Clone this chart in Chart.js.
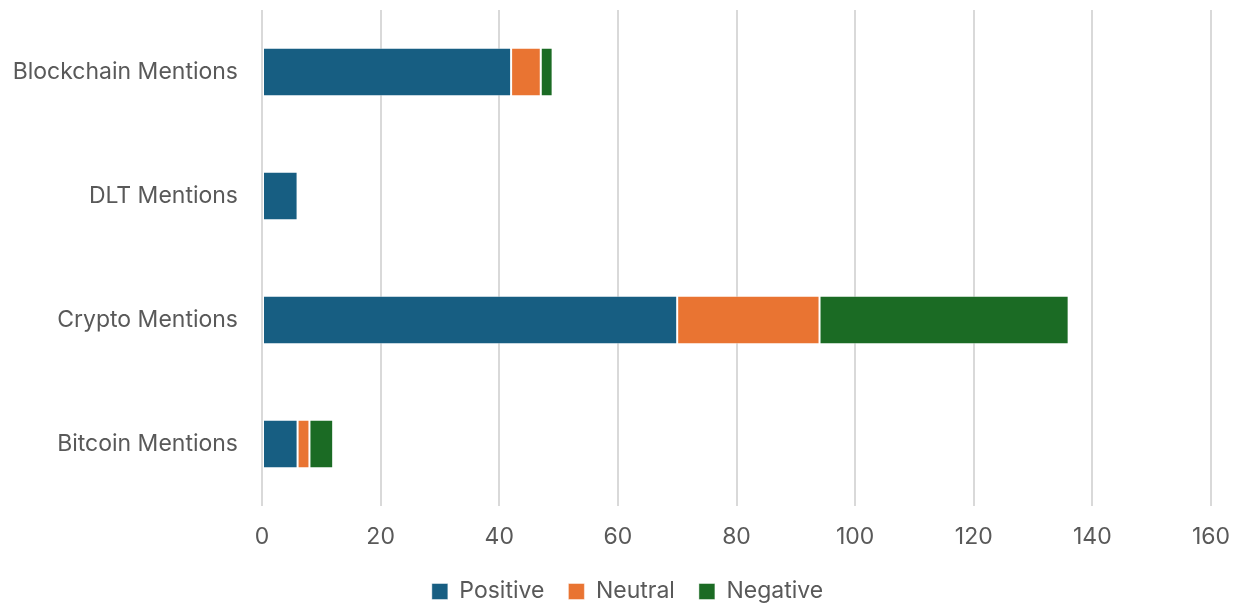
<!DOCTYPE html>
<html>
<head>
<meta charset="utf-8">
<script src="https://cdn.jsdelivr.net/npm/chart.js@4/dist/chart.umd.min.js"></script>
<style>
  html, body { margin: 0; padding: 0; background: #ffffff; }
  #wrap { width: 1240px; height: 606px; }
</style>
</head>
<body>
<div id="wrap"><canvas id="chart" width="1240" height="606"></canvas></div>
<script>
// Mentions by sentiment, per topic
const categories = ['Blockchain Mentions', 'DLT Mentions', 'Crypto Mentions', 'Bitcoin Mentions'];
const positive = [42, 6, 70, 6];
const neutral = [5, 0, 24, 2];
const negative = [2, 0, 42, 4];
const seriesNames = ['Positive', 'Neutral', 'Negative'];
const xTicks = [0, 20, 40, 60, 80, 100, 120, 140, 160];

const colors = ['#175E82', '#E97432', '#1B6B24'];
const textColor = '#595959';
const fontFamily = 'Inter, "Open Sans", sans-serif';

const seriesValues = [positive, neutral, negative];
const datasets = seriesNames.map((name, i) => ({
  label: name,
  data: seriesValues[i],
  backgroundColor: colors[i],
  borderColor: 'rgba(255,255,255,0.45)',
  borderWidth: 1,
  borderSkipped: false,
  barPercentage: 0.39,
  categoryPercentage: 1.0
}));

// Nudge the legend row a little to the right of the canvas centre
const legendShift = {
  id: 'legendShift',
  afterLayout(chart) {
    if (chart.legend) {
      chart.legend.left += 22;
      chart.legend.right += 22;
    }
  }
};

new Chart(document.getElementById('chart'), {
  type: 'bar',
  data: { labels: categories, datasets },
  plugins: [legendShift],
  options: {
    indexAxis: 'y',
    responsive: false,
    animation: false,
    layout: { padding: { top: 10, right: 29, left: 0, bottom: -7 } },
    scales: {
      x: {
        stacked: true,
        min: xTicks[0],
        max: xTicks[xTicks.length - 1],
        afterBuildTicks: (axis) => { axis.ticks = xTicks.map(v => ({ value: v })); },
        grid: { color: '#D9D9D9', lineWidth: 2, drawTicks: false },
        border: { display: false },
        ticks: { color: textColor, font: { family: fontFamily, size: 23 }, padding: 17 },
        afterFit: (axis) => {
          axis.height = 50;
          axis.paddingLeft = 0;
          axis.paddingRight = 0;
        }
      },
      y: {
        stacked: true,
        grid: { display: false, drawTicks: false },
        border: { display: false },
        afterFit: (axis) => {
          axis.width = 262;
          axis.paddingTop = 0;
          axis.paddingBottom = 0;
        },
        ticks: { color: textColor, font: { family: fontFamily, size: 23 }, padding: 24 }
      }
    },
    plugins: {
      legend: {
        position: 'bottom',
        labels: {
          color: textColor,
          font: { family: fontFamily, size: 23 },
          boxWidth: 16,
          boxHeight: 16,
          padding: 24,
          useBorderRadius: false
        }
      },
      tooltip: { enabled: false }
    }
  }
});
</script>
</body>
</html>
